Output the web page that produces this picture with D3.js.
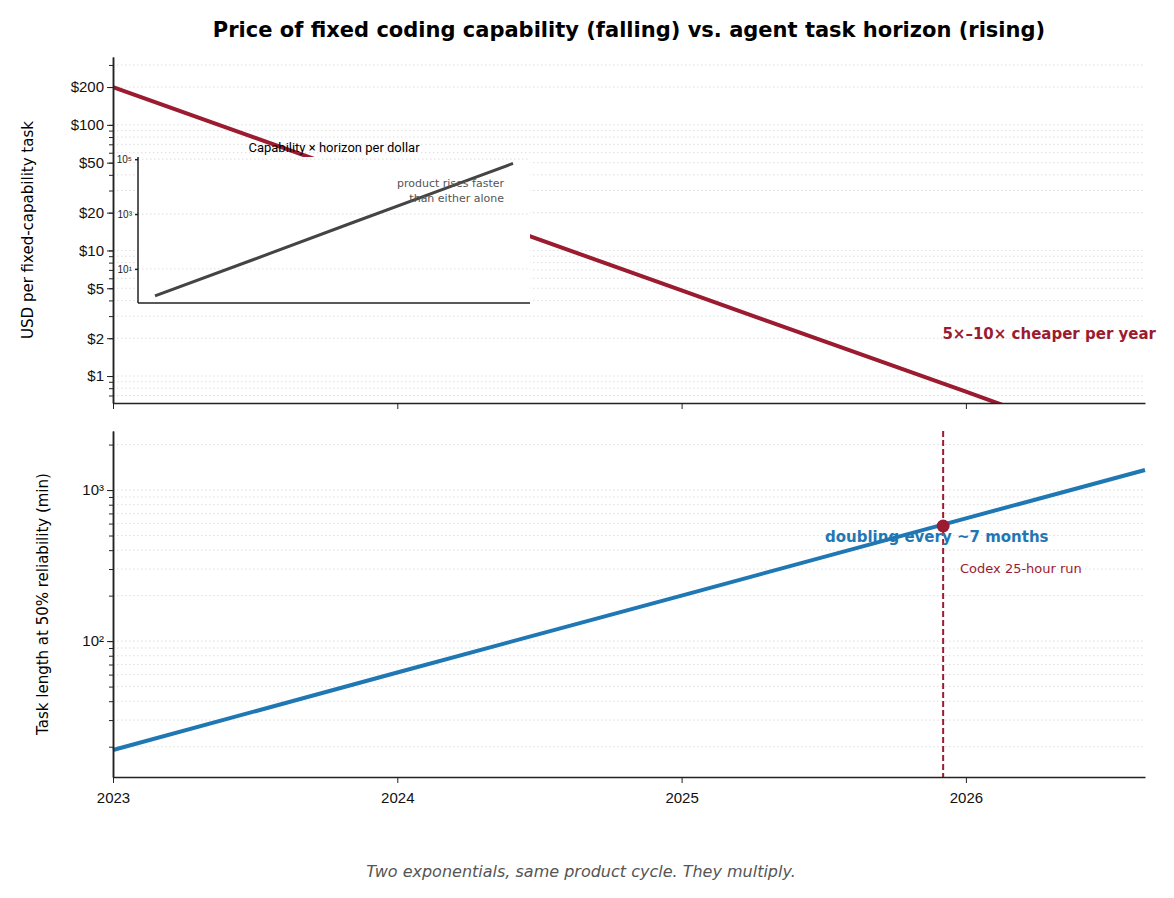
<!DOCTYPE html>
<html><head><meta charset="utf-8">
<script src="https://cdn.jsdelivr.net/npm/d3@7"></script>
<style>
  body { margin: 0; background: #fff; font-family: "DejaVu Sans", sans-serif; }
  .grid line { stroke: #ddd; stroke-dasharray: 1.5,2.5; }
  .axis path, .axis line { stroke: #222; }
  .axis text { font-size: 15px; fill: #111; }
</style></head>
<body>
<svg id="chart" width="1174" height="898"></svg>
<script>
// price of fixed coding capability, USD per task
const priceYears = [2023, 2024, 2025, 2026, 2026.63];
const priceValues = [200, 31, 4.8, 0.75, 0.23];
// task horizon at 50% reliability, minutes
const horizonYears = [2023, 2024, 2025, 2026, 2026.63];
const horizonValues = [19, 62, 200, 650, 1357];
// inset: capability x horizon per dollar
const productYears = [2023, 2024, 2025, 2026, 2026.63];
const productValues = [1.04, 22, 480, 10200, 70000];
const codexPoint = { year: 2025.92, minutes: 578 };
const yearTicks = [2023, 2024, 2025, 2026];
const priceTicks = [1, 2, 5, 10, 20, 50, 100, 200];

const red = "#9b1b30", blue = "#1f77b4";
const svg = d3.select("#chart");
const x = d3.scaleLinear().domain([2023, 2026.63]).range([113, 1145]);

function minorTicks(lo, hi) {
  const out = [];
  for (let e = Math.floor(Math.log10(lo)); e <= Math.ceil(Math.log10(hi)); e++)
    for (let m = 1; m < 10; m++) {
      const v = m * Math.pow(10, e);
      if (v >= lo && v <= hi) out.push(v);
    }
  return out;
}
const sup = {"0":"⁰","1":"¹","2":"²","3":"³","4":"⁴","5":"⁵"};

// ---------- top panel
const yP = d3.scaleLog().domain([0.61, 347]).range([403, 57]);
const topP = svg.append("g");
topP.append("g").attr("class", "grid").selectAll("line")
  .data(minorTicks(0.61, 347)).join("line")
  .attr("x1", 113).attr("x2", 1145).attr("y1", d => yP(d)).attr("y2", d => yP(d));
topP.append("defs").append("clipPath").attr("id", "clipTop")
  .append("rect").attr("x", 113).attr("y", 57).attr("width", 1032).attr("height", 346);
topP.append("path").datum(priceYears.map((d, i) => [d, priceValues[i]]))
  .attr("clip-path", "url(#clipTop)")
  .attr("fill", "none").attr("stroke", red).attr("stroke-width", 4)
  .attr("d", d3.line().x(d => x(d[0])).y(d => yP(d[1])));
topP.append("g").attr("class", "axis").attr("transform", "translate(113,0)")
  .call(d3.axisLeft(yP).tickValues(priceTicks).tickFormat(d => "$" + d).tickSizeOuter(0));
topP.append("g").attr("class", "axis").attr("transform", "translate(113,0)")
  .call(d3.axisLeft(yP).tickValues(minorTicks(0.61, 347)).tickFormat("").tickSize(4).tickSizeOuter(0));
topP.append("g").attr("class", "axis").attr("transform", "translate(0,403)")
  .call(d3.axisBottom(x).tickValues(yearTicks).tickFormat("").tickSizeOuter(0));
topP.append("text").attr("transform", "translate(33,230) rotate(-90)").attr("text-anchor", "middle")
  .attr("font-size", 15).text("USD per fixed-capability task");
topP.append("text").attr("x", 1156).attr("y", 339).attr("text-anchor", "end")
  .attr("font-size", 15).attr("font-weight", "bold").attr("fill", red).text("5×–10× cheaper per year");

// ---------- inset
const xi = d3.scaleLinear().domain([2023, 2026.63]).range([155, 513]);
const yi = d3.scaleLog().domain([0.57, 1.2e5]).range([303, 157]);
const inset = svg.append("g");
inset.append("rect").attr("x", 138).attr("y", 157).attr("width", 392).attr("height", 146).attr("fill", "#fff");
inset.append("g").attr("class", "grid").selectAll("line").data([10, 1000, 100000]).join("line")
  .attr("x1", 138).attr("x2", 530).attr("y1", d => yi(d)).attr("y2", d => yi(d));
inset.append("path").datum(productYears.map((d, i) => [d, productValues[i]]))
  .attr("fill", "none").attr("stroke", "#444").attr("stroke-width", 3)
  .attr("d", d3.line().x(d => xi(d[0])).y(d => yi(d[1])));
const ia = inset.append("g").attr("transform", "translate(138,0)")
  .call(d3.axisLeft(yi).tickValues([10, 1000, 100000]).tickSize(3).tickSizeOuter(0)
    .tickFormat(d => "10" + sup[Math.round(Math.log10(d))]));
ia.selectAll("path, line").attr("stroke", "#222").attr("stroke-width", 1.5);
ia.selectAll("text").attr("font-size", 10).attr("fill", "#222");
ia.select("path").attr("d", "M0,157V303");
inset.append("line").attr("x1", 138).attr("x2", 530).attr("y1", 303).attr("y2", 303)
  .attr("stroke", "#222").attr("stroke-width", 1.5);
inset.append("text").attr("x", 334).attr("y", 152).attr("text-anchor", "middle")
  .attr("font-size", 13).attr("font-family", "Roboto, sans-serif").text("Capability × horizon per dollar");
inset.append("text").attr("x", 504).attr("y", 187).attr("text-anchor", "end")
  .attr("font-size", 11).attr("fill", "#555").text("product rises faster");
inset.append("text").attr("x", 504).attr("y", 202).attr("text-anchor", "end")
  .attr("font-size", 11).attr("fill", "#555").text("than either alone");

// ---------- bottom panel
const yH = d3.scaleLog().domain([12.6, 2460]).range([777, 431]);
const bot = svg.append("g");
bot.append("g").attr("class", "grid").selectAll("line")
  .data(minorTicks(12.6, 2460)).join("line")
  .attr("x1", 113).attr("x2", 1145).attr("y1", d => yH(d)).attr("y2", d => yH(d));
bot.append("path").datum(horizonYears.map((d, i) => [d, horizonValues[i]]))
  .attr("fill", "none").attr("stroke", blue).attr("stroke-width", 4)
  .attr("d", d3.line().x(d => x(d[0])).y(d => yH(d[1])));
bot.append("line").attr("x1", x(codexPoint.year)).attr("x2", x(codexPoint.year))
  .attr("y1", 431).attr("y2", 777).attr("stroke", red).attr("stroke-width", 2)
  .attr("stroke-dasharray", "6,3");
bot.append("circle").attr("cx", x(codexPoint.year)).attr("cy", yH(codexPoint.minutes))
  .attr("r", 6.5).attr("fill", red);
bot.append("g").attr("class", "axis").attr("transform", "translate(113,0)")
  .call(d3.axisLeft(yH).tickValues([100, 1000]).tickSizeOuter(0)
    .tickFormat(d => "10" + sup[Math.round(Math.log10(d))]));
bot.append("g").attr("class", "axis").attr("transform", "translate(113,0)")
  .call(d3.axisLeft(yH).tickValues(minorTicks(12.6, 2460)).tickFormat("").tickSize(4).tickSizeOuter(0));
bot.append("g").attr("class", "axis").attr("transform", "translate(0,777)")
  .call(d3.axisBottom(x).tickValues(yearTicks).tickFormat(d3.format("d")).tickSizeOuter(0))
  .selectAll("text").attr("dy", "1.1em");
bot.append("text").attr("transform", "translate(48,604) rotate(-90)").attr("text-anchor", "middle")
  .attr("font-size", 15).text("Task length at 50% reliability (min)");
bot.append("text").attr("x", 825).attr("y", 542).attr("font-size", 15)
  .attr("font-weight", "bold").attr("fill", blue).text("doubling every ~7 months");
bot.append("text").attr("x", 960).attr("y", 573).attr("font-size", 13)
  .attr("fill", red).text("Codex 25-hour run");

svg.selectAll(".axis path").attr("stroke-width", 1.5);

// ---------- titles
svg.append("text").attr("x", 629).attr("y", 37).attr("text-anchor", "middle")
  .attr("font-size", 21).attr("font-weight", "bold").text("Price of fixed coding capability (falling) vs. agent task horizon (rising)");
svg.append("text").attr("x", 581).attr("y", 877).attr("text-anchor", "middle")
  .attr("font-size", 16).attr("font-style", "italic").attr("fill", "#555")
  .text("Two exponentials, same product cycle. They multiply.");
</script>
</body></html>
